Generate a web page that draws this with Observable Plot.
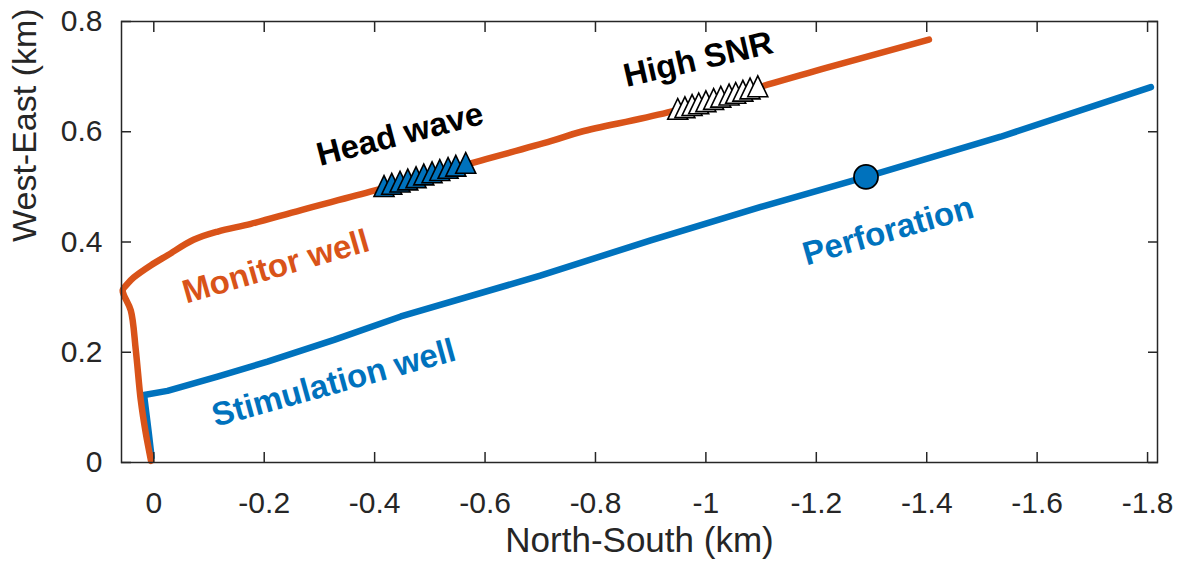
<!DOCTYPE html>
<html>
<head>
<meta charset="utf-8">
<script src="https://cdn.jsdelivr.net/npm/d3@7"></script>
<script src="https://cdn.jsdelivr.net/npm/@observablehq/plot@0.6"></script>
<style>
  html, body { margin: 0; padding: 0; background: #fff; }
  svg { display: block; }
</style>
</head>
<body>
<div id="chart"></div>
<script>
// ---- Data (km) ----
const monitorX = [0.005, 0.0145, 0.0236, 0.0326, 0.0417, 0.0543, 0.0562, 0.047, 0.036, 0.005, -0.025, -0.072, -0.116, -0.176, -0.267, -0.399, -0.539, -0.719, -0.774, -0.931, -1.226, -1.404];
const monitorY = [0.003, 0.053, 0.113, 0.204, 0.276, 0.304, 0.313, 0.325, 0.336, 0.358, 0.376, 0.404, 0.419, 0.433, 0.458, 0.493, 0.533, 0.583, 0.600, 0.635, 0.718, 0.767];

const stimX = [0.004, 0.009, 0.0176, -0.0248, -0.1154, -0.206, -0.3266, -0.4475, -0.70, -0.90, -1.0996, -1.290, -1.534, -1.806];
const stimY = [0.0096, 0.053, 0.1224, 0.1300, 0.1560, 0.1830, 0.2224, 0.2649, 0.339, 0.403, 0.4636, 0.518, 0.591, 0.681];

const headWaveX = [-0.417, -0.431, -0.446, -0.460, -0.475, -0.489, -0.504, -0.518, -0.533, -0.547, -0.565];
const headWaveY = [0.500, 0.504, 0.508, 0.512, 0.516, 0.521, 0.525, 0.529, 0.533, 0.537, 0.542];

const highSnrX = [-0.949, -0.962, -0.975, -0.987, -1.000, -1.014, -1.027, -1.042, -1.054, -1.067, -1.080, -1.094];
const highSnrY = [0.640, 0.643, 0.647, 0.650, 0.654, 0.658, 0.662, 0.666, 0.669, 0.673, 0.677, 0.681];

const perforationX = [-1.290];
const perforationY = [0.518];

const xTicks = [0, -0.2, -0.4, -0.6, -0.8, -1, -1.2, -1.4, -1.6, -1.8];
const xTickLabels = ["0", "-0.2", "-0.4", "-0.6", "-0.8", "-1", "-1.2", "-1.4", "-1.6", "-1.8"];
const yTicks = [0, 0.2, 0.4, 0.6, 0.8];
const yTickLabels = ["0", "0.2", "0.4", "0.6", "0.8"];

const xLabel = "North-South (km)";
const yLabel = "West-East (km)";

// annotation labels
const labelMonitor = {text: "Monitor well", x: -0.221, y: 0.355, angle: -16};
const labelStim = {text: "Stimulation well", x: -0.326, y: 0.144, angle: -15.5};
const labelHead = {text: "Head wave", x: -0.446, y: 0.595, angle: -14.5};
const labelSnr = {text: "High SNR", x: -0.986, y: 0.731, angle: -13};
const labelPerf = {text: "Perforation", x: -1.330, y: 0.42, angle: -16};

// ---- Build tables ----
const zip = (xs, ys) => xs.map((x, i) => ({x, y: ys[i]}));
const monitor = zip(monitorX, monitorY);
const stim = zip(stimX, stimY);
const headWave = zip(headWaveX, headWaveY);
const highSnr = zip(highSnrX, highSnrY);
const perforation = zip(perforationX, perforationY);

const orange = "#D95319";
const blue = "#0072BD";
const axisColor = "#262626";
const font = "'Liberation Sans', Arial, Helvetica, sans-serif";

const triangleUp = {
  draw(ctx, size) {
    const r = Math.sqrt(size / Math.PI);
    ctx.moveTo(0, -1.4 * r);
    ctx.lineTo(1.25 * r, 1.2 * r);
    ctx.lineTo(-1.25 * r, 1.2 * r);
    ctx.closePath();
  }
};

const fmtX = d => xTickLabels[xTicks.indexOf(d)];
const fmtY = d => yTickLabels[yTicks.indexOf(d)];

const annot = (lab, color) => Plot.text([lab], {
  x: "x", y: "y", text: "text", rotate: lab.angle,
  fill: color, fontSize: 33, fontWeight: "bold", fontFamily: font,
  textAnchor: "middle", lineAnchor: "middle"
});

const chart = Plot.plot({
  width: 1180,
  height: 572,
  marginLeft: 121,
  marginRight: 23,
  marginTop: 21,
  marginBottom: 110,
  style: {fontFamily: font, background: "#fff", overflow: "visible"},
  x: {domain: [0.0585, -1.818]},
  y: {domain: [0, 0.8]},
  marks: [
    Plot.line(stim, {x: "x", y: "y", stroke: blue, strokeWidth: 6.5, strokeLinejoin: "round", strokeLinecap: "round"}),
    Plot.line(monitor, {x: "x", y: "y", stroke: orange, strokeWidth: 6.5, strokeLinejoin: "round", strokeLinecap: "round", curve: "catmull-rom"}),
    Plot.dot(headWave, {x: "x", y: "y", symbol: triangleUp, r: 8, fill: blue, stroke: "black", strokeWidth: 1.6}),
    Plot.dot(highSnr, {x: "x", y: "y", symbol: triangleUp, r: 8, fill: "white", stroke: "black", strokeWidth: 1.6}),
    Plot.dot(perforation, {x: "x", y: "y", r: 12, fill: blue, stroke: "black", strokeWidth: 1.8}),
    annot(labelMonitor, orange),
    annot(labelStim, blue),
    annot(labelHead, "black"),
    annot(labelSnr, "black"),
    annot(labelPerf, blue),
    Plot.frame({stroke: axisColor, strokeWidth: 1.5}),
    Plot.axisX(xTicks, {anchor: "bottom", tickSize: 10, dy: -10, tickFormat: () => "", stroke: axisColor, strokeWidth: 1.5, label: null}),
    Plot.axisX(xTicks, {anchor: "top", tickSize: 10, dy: 10, tickFormat: () => "", stroke: axisColor, strokeWidth: 1.5, label: null}),
    Plot.axisY(yTicks, {anchor: "left", tickSize: 10, dx: 10, tickFormat: () => "", stroke: axisColor, strokeWidth: 1.5, label: null}),
    Plot.axisY(yTicks, {anchor: "right", tickSize: 10, dx: -10, tickFormat: () => "", stroke: axisColor, strokeWidth: 1.5, label: null}),
    Plot.axisX(xTicks, {anchor: "bottom", tickSize: 0, tickPadding: 29, tickFormat: fmtX, fontSize: 30, fill: axisColor, label: null}),
    Plot.axisY(yTicks, {anchor: "left", tickSize: 0, tickPadding: 19, tickFormat: fmtY, fontSize: 30, fill: axisColor, label: null}),
    Plot.text([xLabel], {frameAnchor: "bottom", dy: 89, text: d => d, fontSize: 35, fill: axisColor, fontFamily: font}),
    Plot.text([yLabel], {frameAnchor: "left", dx: -96, rotate: -90, text: d => d, fontSize: 34, fill: axisColor, fontFamily: font})
  ]
});

document.getElementById("chart").appendChild(chart);
</script>
</body>
</html>
